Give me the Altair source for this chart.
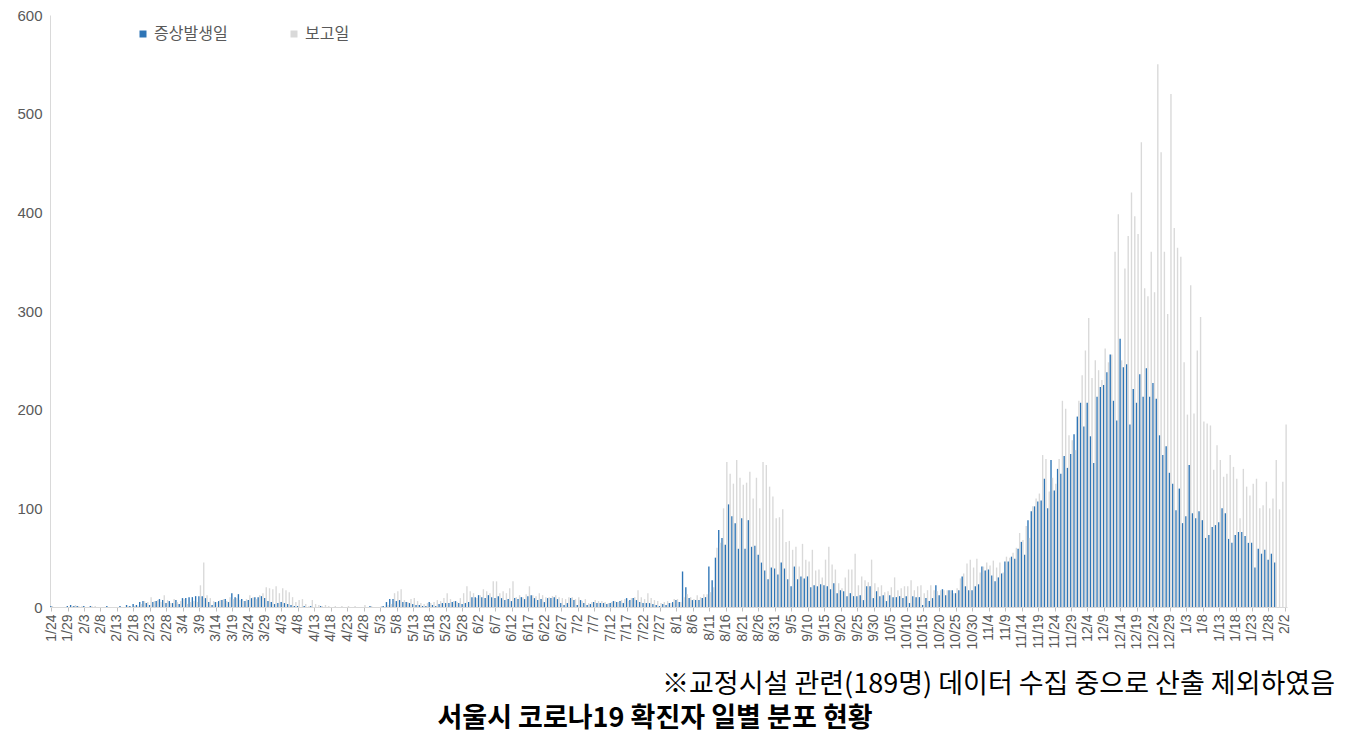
import altair as alt
import pandas as pd

# ---- data ----
S1 = "증상발생일"
S2 = "보고일"

onset_2020_01 = [1, 0, 0, 0, 0, 1, 2, 1]
onset_2020_02 = [1, 0, 1, 0, 1, 0, 0, 0, 0, 1, 0, 0, 0, 1, 0, 2, 1, 3, 2, 5, 6, 4, 2, 5, 6, 8, 7, 4, 6]
onset_2020_03 = [4, 7, 3, 9, 9, 10, 10, 11, 11, 11, 9, 5, 2, 5, 6, 7, 8, 5, 14, 10, 13, 8, 6, 7, 9, 10, 10, 11, 9, 6, 5]
onset_2020_04 = [3, 4, 5, 4, 3, 2, 1, 1, 0, 1, 0, 1, 0, 0, 1, 0, 0, 0, 0, 0, 0, 0, 0, 0, 0, 0, 0, 0, 0, 1]
onset_2020_05 = [0, 0, 0, 1, 5, 8, 8, 6, 7, 5, 5, 4, 3, 2, 2, 1, 1, 5, 2, 1, 3, 4, 4, 4, 5, 6, 4, 3, 4, 5, 10]
onset_2020_06 = [10, 12, 10, 9, 12, 10, 9, 11, 9, 7, 8, 6, 9, 8, 10, 8, 11, 12, 9, 7, 8, 5, 9, 9, 10, 8, 4, 2, 4, 9]
onset_2020_07 = [7, 2, 7, 4, 2, 3, 5, 4, 4, 4, 3, 4, 6, 5, 6, 4, 9, 7, 9, 7, 5, 4, 4, 4, 3, 2, 1, 3, 2, 4, 5]
onset_2020_08 = [7, 5, 36, 20, 9, 7, 7, 7, 9, 10, 41, 27, 50, 78, 70, 63, 104, 92, 85, 59, 90, 59, 88, 61, 62, 53, 45, 37, 28, 40, 39]
onset_2020_09 = [33, 45, 39, 28, 21, 41, 28, 31, 29, 31, 20, 22, 21, 23, 22, 21, 18, 24, 14, 17, 16, 11, 14, 11, 11, 12, 7, 21, 21, 9]
onset_2020_10 = [16, 11, 12, 6, 12, 10, 10, 11, 9, 11, 4, 11, 10, 10, 2, 9, 6, 9, 22, 12, 18, 12, 17, 17, 14, 17, 31, 21, 17, 17, 21]
onset_2020_11 = [23, 41, 37, 38, 32, 26, 30, 34, 46, 46, 51, 49, 59, 66, 53, 88, 97, 102, 107, 108, 130, 100, 149, 118, 140, 135, 153, 141, 155, 175]
onset_2020_12 = [193, 207, 183, 207, 173, 146, 213, 223, 225, 238, 256, 209, 189, 272, 243, 246, 185, 221, 207, 236, 213, 242, 213, 227, 211, 174, 154, 163, 136, 125, 98]
onset_2021_01 = [120, 85, 92, 144, 95, 90, 97, 88, 70, 73, 81, 83, 86, 100, 95, 69, 65, 73, 76, 76, 72, 65, 65, 40, 59, 54, 58, 48, 54, 45, 0]
onset_2021_02 = [0, 0]

report_2020_01 = [1, 0, 0, 0, 0, 0, 1, 2]
report_2020_02 = [1, 1, 0, 0, 1, 1, 0, 0, 0, 0, 0, 0, 0, 0, 0, 1, 0, 1, 1, 3, 6, 5, 10, 6, 7, 5, 12, 7, 4]
report_2020_03 = [8, 5, 6, 8, 3, 5, 6, 5, 22, 45, 12, 9, 6, 5, 7, 8, 6, 10, 8, 9, 7, 6, 8, 12, 10, 8, 12, 14, 20, 19, 18]
report_2020_04 = [21, 14, 19, 17, 15, 10, 5, 7, 8, 3, 1, 7, 3, 2, 1, 2, 1, 0, 1, 0, 1, 0, 1, 0, 1, 0, 0, 2, 0, 1]
report_2020_05 = [0, 0, 1, 0, 2, 3, 14, 16, 18, 7, 5, 8, 9, 6, 4, 3, 4, 4, 5, 7, 6, 9, 14, 8, 6, 5, 9, 14, 21, 16, 14]
report_2020_06 = [9, 12, 18, 16, 14, 26, 26, 14, 16, 14, 19, 26, 10, 12, 10, 13, 21, 12, 11, 14, 12, 10, 10, 11, 12, 10, 9, 8, 10, 10]
report_2020_07 = [8, 10, 6, 8, 4, 5, 7, 6, 6, 5, 4, 5, 6, 5, 7, 8, 6, 9, 10, 17, 10, 8, 14, 9, 7, 6, 4, 5, 6, 4, 8]
report_2020_08 = [8, 5, 10, 13, 10, 8, 12, 10, 13, 13, 15, 20, 60, 65, 100, 147, 135, 125, 149, 131, 124, 126, 137, 110, 131, 100, 147, 144, 122, 112, 90]
report_2020_09 = [91, 99, 66, 67, 58, 61, 41, 64, 48, 46, 58, 37, 38, 30, 48, 61, 43, 38, 24, 19, 30, 38, 38, 54, 22, 31, 27, 25, 48, 24]
report_2020_10 = [20, 22, 15, 16, 20, 30, 17, 19, 21, 21, 27, 17, 21, 22, 14, 17, 22, 17, 16, 17, 17, 17, 17, 14, 19, 29, 34, 44, 48, 40, 49]
report_2020_11 = [35, 41, 45, 42, 47, 40, 45, 35, 51, 50, 55, 60, 75, 68, 82, 70, 102, 110, 115, 154, 150, 117, 131, 125, 150, 209, 201, 174, 169, 159]
report_2020_12 = [209, 235, 260, 293, 232, 250, 240, 230, 262, 248, 256, 360, 398, 250, 343, 376, 420, 396, 378, 471, 323, 315, 360, 319, 550, 461, 360, 297, 520, 384, 364]
report_2021_01 = [355, 248, 195, 326, 196, 260, 294, 188, 186, 184, 139, 164, 149, 132, 135, 154, 142, 130, 90, 140, 122, 113, 125, 130, 100, 103, 127, 100, 110, 149, 99]
report_2021_02 = [127, 185]

y_ticks = [0, 100, 200, 300, 400, 500, 600]
note_text = "※교정시설 관련(189명) 데이터 수집 중으로 산출 제외하였음"
title_text = "서울시 코로나19 확진자 일별 분포 현황"

onset = (onset_2020_01 + onset_2020_02 + onset_2020_03 + onset_2020_04 + onset_2020_05 +
         onset_2020_06 + onset_2020_07 + onset_2020_08 + onset_2020_09 + onset_2020_10 +
         onset_2020_11 + onset_2020_12 + onset_2021_01 + onset_2021_02)
report = (report_2020_01 + report_2020_02 + report_2020_03 + report_2020_04 + report_2020_05 +
          report_2020_06 + report_2020_07 + report_2020_08 + report_2020_09 + report_2020_10 +
          report_2020_11 + report_2020_12 + report_2021_01 + report_2021_02)

dates = [d.strftime("%Y-%m-%d") for d in pd.date_range("2020-01-24", "2021-02-02", freq="D")]
assert len(dates) == len(onset) == len(report), (len(dates), len(onset), len(report))

rows = []
for d, a, b in zip(dates, onset, report):
    rows.append({"date": d, "series": S1, "value": a})
    rows.append({"date": d, "series": S2, "value": b})
df = pd.DataFrame(rows)

tick_vals = dates[::5]

PLOT_W = 1237
PLOT_H = 592
AXIS_FONT = "Liberation Sans"
KR_FONT = "Noto Sans CJK KR"

bars = alt.Chart(df).mark_bar().encode(
    x=alt.X(
        "date:O",
        sort=None,
        scale=alt.Scale(paddingInner=0.12, paddingOuter=0.06),
        axis=alt.Axis(
            title=None,
            values=tick_vals,
            labelExpr="toNumber(substring(datum.value,5,7)) + '/' + toNumber(substring(datum.value,8,10))",
            labelAngle=-90,
            labelOverlap=False,
            labelFont=AXIS_FONT,
            labelFontSize=14,
            labelColor="#595959",
            labelPadding=3,
            tickColor="#bfbfbf",
            tickSize=4,
            domainColor="#d9d9d9",
            grid=False,
        ),
    ),
    xOffset=alt.XOffset("series:N", sort=[S1, S2], scale=alt.Scale(paddingInner=0.1)),
    y=alt.Y(
        "value:Q",
        scale=alt.Scale(domain=[0, 600], nice=False),
        axis=alt.Axis(
            title=None,
            values=y_ticks,
            grid=False,
            ticks=False,
            labelFont=AXIS_FONT,
            labelFontSize=15,
            labelColor="#595959",
            labelPadding=8,
            domainColor="#d9d9d9",
        ),
    ),
    color=alt.Color(
        "series:N",
        scale=alt.Scale(domain=[S1, S2], range=["#2e75b6", "#d9d9d9"]),
        legend=alt.Legend(
            title=None,
            orient="none",
            legendX=85,
            legendY=11,
            direction="horizontal",
            symbolType="square",
            symbolSize=49,
            symbolStrokeWidth=0,
            labelFont=KR_FONT,
            labelFontSize=16,
            labelColor="#595959",
            labelOffset=3,
            columnPadding=58,
        ),
    ),
)

note = alt.Chart(pd.DataFrame({"t": [note_text]})).mark_text(
    align="right", baseline="middle", font=KR_FONT, fontSize=27, color="#000000"
).encode(text="t:N", x=alt.value(1285), y=alt.value(670))

title = alt.Chart(pd.DataFrame({"t": [title_text]})).mark_text(
    align="center", baseline="middle", font=KR_FONT, fontSize=27, fontWeight="bold", color="#000000"
).encode(text="t:N", x=alt.value(605), y=alt.value(704))

chart = alt.layer(bars, note, title).properties(
    width=PLOT_W, height=PLOT_H, padding={"left": 8, "top": 0, "right": 0, "bottom": 2}
).configure_view(stroke=None)

chart.save("out.html", embed_options={"renderer": "svg", "actions": False})
